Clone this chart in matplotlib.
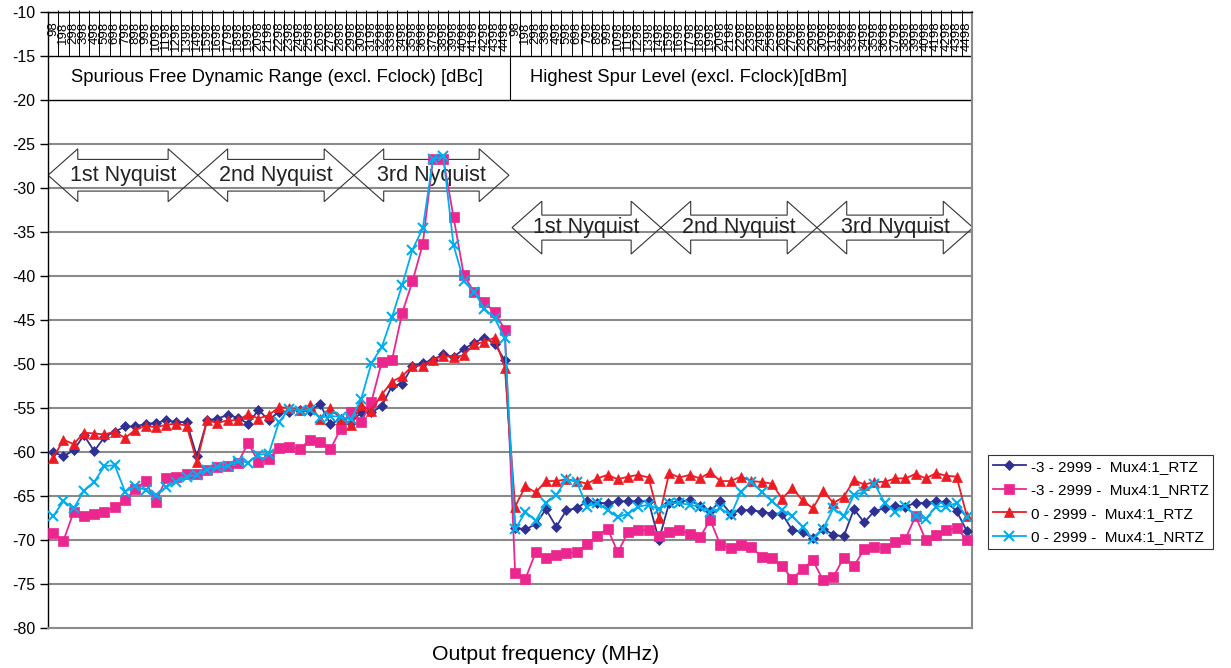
import numpy as np
import matplotlib
matplotlib.use('Agg')
import matplotlib.pyplot as plt
from matplotlib.patches import Polygon

plt.rcParams['font.family'] = ['Liberation Sans', 'DejaVu Sans']

# category axis: output frequency, repeated for the two measured quantities
freq_labels = [str(f) for f in range(98, 4499, 100)]
tick_labels = freq_labels + freq_labels
group_labels = ['Spurious Free Dynamic Range (excl. Fclock) [dBc]',
                'Highest Spur Level (excl. Fclock)[dBm]']
nyquist_labels = ['1st Nyquist', '2nd Nyquist', '3rd Nyquist']

# -3 - 2999 - Mux4:1_RTZ
rtz_m3_sfdr = [-60.0, -60.5, -59.8, -58.1, -59.9, -58.3, -57.7, -57.1, -57.1, -56.8,
               -56.7, -56.4, -56.6, -56.6, -60.5, -56.4, -56.2, -55.8, -56.1, -56.8,
               -55.2, -56.4, -55.4, -55.4, -55.2, -55.3, -54.6, -56.8, -56.3, -56.7,
               -55.5, -55.5, -54.8, -52.5, -52.3, -50.2, -49.9, -49.5, -48.9, -49.2,
               -48.3, -47.6, -47.0, -47.7, -49.6]
rtz_m3_spur = [-68.6, -68.8, -68.2, -66.5, -68.5, -66.6, -66.4, -65.6, -65.8, -65.8,
               -65.6, -65.6, -65.6, -65.6, -70.0, -65.8, -65.6, -65.5, -66.1, -66.7,
               -65.6, -67.0, -66.6, -66.6, -66.8, -67.0, -67.0, -68.9, -69.1, -69.8,
               -68.7, -69.4, -69.6, -66.5, -68.0, -66.7, -66.4, -66.1, -66.2, -65.8,
               -65.8, -65.6, -65.7, -66.7, -69.0]

# -3 - 2999 - Mux4:1_NRTZ
nrtz_m3_sfdr = [-69.2, -70.1, -66.8, -67.3, -67.0, -66.8, -66.3, -65.5, -64.2, -63.3,
                -65.7, -63.0, -62.8, -62.5, -62.5, -62.0, -61.7, -61.6, -61.2, -59.0,
                -61.1, -60.8, -59.5, -59.4, -59.7, -58.6, -58.9, -59.7, -57.4, -55.4,
                -56.6, -54.3, -49.8, -49.6, -44.2, -40.6, -36.4, -26.7, -26.7, -33.3,
                -39.9, -41.8, -43.0, -44.1, -46.1]
nrtz_m3_spur = [-73.7, -74.4, -71.4, -72.0, -71.7, -71.5, -71.4, -70.5, -69.5, -68.7,
                -71.4, -69.1, -68.9, -68.9, -69.6, -69.1, -68.9, -69.3, -69.7, -67.7,
                -70.6, -70.9, -70.6, -70.8, -71.9, -72.0, -73.0, -74.4, -73.3, -72.3,
                -74.6, -74.2, -72.0, -73.0, -71.0, -70.8, -70.9, -70.2, -69.9, -67.3,
                -70.0, -69.4, -68.9, -68.6, -70.0]

# 0 - 2999 - Mux4:1_RTZ
rtz_0_sfdr = [-60.7, -58.6, -59.1, -57.8, -57.9, -58.0, -57.7, -58.4, -57.5, -57.0,
              -57.2, -56.9, -56.8, -57.0, -61.1, -56.4, -56.7, -56.4, -56.4, -55.7,
              -56.2, -55.8, -54.9, -55.0, -55.2, -54.7, -56.2, -55.0, -56.2, -56.9,
              -54.7, -55.3, -53.5, -52.0, -51.4, -50.2, -50.2, -49.5, -49.1, -49.2,
              -49.0, -47.7, -47.5, -47.0, -50.4]
rtz_0_spur = [-66.2, -63.9, -64.6, -63.3, -63.3, -63.1, -63.3, -63.6, -63.0, -62.6,
              -63.1, -62.8, -62.6, -62.9, -67.5, -62.4, -62.9, -62.6, -63.0, -62.3,
              -63.3, -63.3, -62.8, -63.3, -63.4, -63.6, -65.3, -64.1, -65.5, -66.4,
              -64.4, -65.8, -65.1, -63.2, -63.7, -63.4, -63.4, -63.0, -63.0, -62.5,
              -63.0, -62.4, -62.7, -62.8, -67.3]

# 0 - 2999 - Mux4:1_NRTZ
nrtz_0_sfdr = [-67.3, -65.6, -66.4, -64.4, -63.4, -61.6, -61.5, -64.5, -63.9, -64.3,
               -64.9, -64.0, -63.4, -62.8, -62.6, -62.0, -61.7, -61.6, -61.0, -61.2,
               -60.3, -60.2, -56.6, -55.1, -55.3, -55.2, -56.1, -55.9, -56.0, -56.3,
               -54.0, -49.9, -48.1, -44.7, -41.0, -37.0, -34.6, -26.7, -26.4, -36.5,
               -40.6, -41.8, -43.7, -44.8, -47.1]
nrtz_0_spur = [-68.8, -66.8, -67.8, -65.8, -64.9, -63.1, -63.4, -66.2, -65.8, -66.6,
               -67.4, -67.0, -66.2, -66.0, -66.5, -65.8, -65.8, -66.0, -66.2, -66.8,
               -66.4, -67.2, -64.5, -63.4, -64.5, -65.6, -66.6, -67.3, -68.5, -69.9,
               -68.7, -66.4, -67.3, -64.9, -64.5, -63.6, -65.8, -66.8, -66.1, -67.3,
               -67.6, -66.2, -66.2, -65.8, -67.4]

series = [
    ('-3 - 2999 -  Mux4:1_RTZ', rtz_m3_sfdr + rtz_m3_spur, '#2E3192', 'D', 4.8),
    ('-3 - 2999 -  Mux4:1_NRTZ', nrtz_m3_sfdr + nrtz_m3_spur, '#EC268F', 's', 7),
    ('0 - 2999 -  Mux4:1_RTZ', rtz_0_sfdr + rtz_0_spur, '#ED1C24', '^', 7.5),
    ('0 - 2999 -  Mux4:1_NRTZ', nrtz_0_sfdr + nrtz_0_spur, '#00AEEF', 'x', 7),
]

W, H = 1231, 668
fig = plt.figure(figsize=(W / 100, H / 100), dpi=100)
ax = fig.add_axes([48 / W, 40 / H, 924 / W, 616 / H])

x = np.arange(len(tick_labels))
handles = []
for name, vals, col, mk, ms in series:
    ln, = ax.plot(x, vals, color=col, lw=1.3, marker=mk, ms=ms,
                  mec=col, mfc=col, mew=1.5 if mk == 'x' else 0.5, label=name, zorder=3)
    handles.append(ln)

ax.set_xlim(-0.5, len(x) - 0.5)
ax.set_ylim(-80, -10)
yt = np.arange(-80, -9, 5)
ax.set_yticks(yt)
ax.set_yticklabels([str(v) for v in yt], fontsize=11.5)
ax.tick_params(axis='y', direction='out', length=6, width=1, pad=3)
ax.set_xticks([])

# horizontal grid; the top rows form the category label table
for v in yt:
    if v >= -20:
        ax.axhline(v, color='black', lw=1.0, zorder=1)
    elif v > -80:
        ax.axhline(v, color='#8a8a8a', lw=1.5, zorder=1)

for s in ['left', 'top']:
    ax.spines[s].set_color('black')
    ax.spines[s].set_linewidth(1.0)
for s in ['right', 'bottom']:
    ax.spines[s].set_color('#8a8a8a')
    ax.spines[s].set_linewidth(1.5)

# frequency labels between -10 and -15
ax.vlines(np.arange(0.5, len(x) - 0.5, 1), -15, -9.8, color='black', lw=0.7,
          zorder=2, clip_on=False)
for i, lab in enumerate(tick_labels):
    ax.text(i, -11.1, lab, rotation=90, ha='center', va='top', fontsize=9.5,
            zorder=4)

# group labels between -15 and -20
half = len(freq_labels)
ax.vlines(half - 0.5, -20, -15, color='black', lw=0.8, zorder=2)
ax.text(1.7, -17.5, group_labels[0], ha='left', va='center', fontsize=13.2)
ax.text(46.4, -17.5, group_labels[1], ha='left', va='center', fontsize=13.2)


def double_arrow(x0, x1, yc, head, tip, body):
    pts = [(x0, yc), (x0 + head, yc + tip), (x0 + head, yc + body),
           (x1 - head, yc + body), (x1 - head, yc + tip), (x1, yc),
           (x1 - head, yc - tip), (x1 - head, yc - body),
           (x0 + head, yc - body), (x0 + head, yc - tip)]
    ax.add_patch(Polygon(pts, closed=True, fill=False, ec='#333333', lw=0.8, zorder=2))


# Nyquist zones for each group
zone_edges = [[-0.5, 14.1, 29.3, 44.4], [44.7, 59.2, 74.4, 89.6]]
zone_y = [-28.55, -34.5]
zone_body = [1.8, 1.42]
for edges, yc, body in zip(zone_edges, zone_y, zone_body):
    for k, lab in enumerate(nyquist_labels):
        double_arrow(edges[k], edges[k + 1], yc, 2.9, 3.0, body)
        ax.text((edges[k] + edges[k + 1]) / 2, yc, lab, ha='center', va='center',
                fontsize=15.5, color='#222222', zorder=2)

leg = fig.legend(handles=handles, loc='upper left', bbox_to_anchor=(988 / W, 1 - 455 / H),
                 frameon=True, fancybox=False, edgecolor='black', fontsize=11,
                 borderpad=0.3, labelspacing=0.62, handlelength=2.2, handletextpad=0.3,
                 borderaxespad=0)
leg.get_frame().set_linewidth(0.8)

fig.text(546 / W, 1 - 655 / H, 'Output frequency (MHz)', ha='center', va='center',
         fontsize=15.3)

fig.savefig('out.png', dpi=100)
